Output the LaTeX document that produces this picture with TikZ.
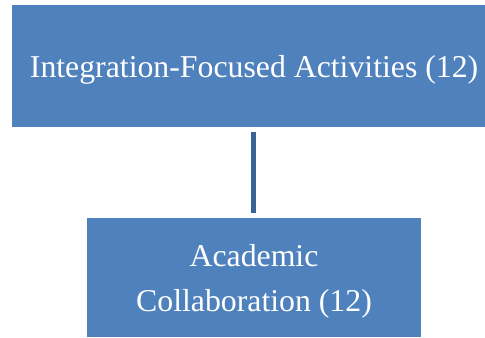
\documentclass[tikz,border=0pt]{standalone}
\usepackage{fontspec}
\setmainfont{Liberation Serif}
\definecolor{boxblue}{HTML}{4F81BD}
\definecolor{linkblue}{HTML}{3A6496}

\begin{document}
\begin{tikzpicture}[x=0.025cm, y=-0.025cm,
	box/.style={fill=boxblue, inner sep=0pt},
	boxtext/.style={text=white, align=center, inner sep=0pt, yshift=-0.1cm,
		font=\fontsize{22.6pt}{32pt}\selectfont}]
	\useasboundingbox (0,0) rectangle (485,337);

	\node[box, minimum width=11.825cm, minimum height=3.05cm,
		label={[boxtext, xshift=0.14cm]center:Integration-Focused Activities (12)}]	(act)	at (248.5,66)	{};
	\node[box, minimum width=8.35cm, minimum height=2.975cm,
		label={[boxtext]center:Academic\\Collaboration (12)}]	(col)	at (254,277.5)	{};

	\draw[linkblue, line width=3.6pt, shorten <=0.125cm, shorten >=0.125cm]
	(act.south -| 253.5,0) -- (col.north -| 253.5,0);
\end{tikzpicture}
\end{document}
